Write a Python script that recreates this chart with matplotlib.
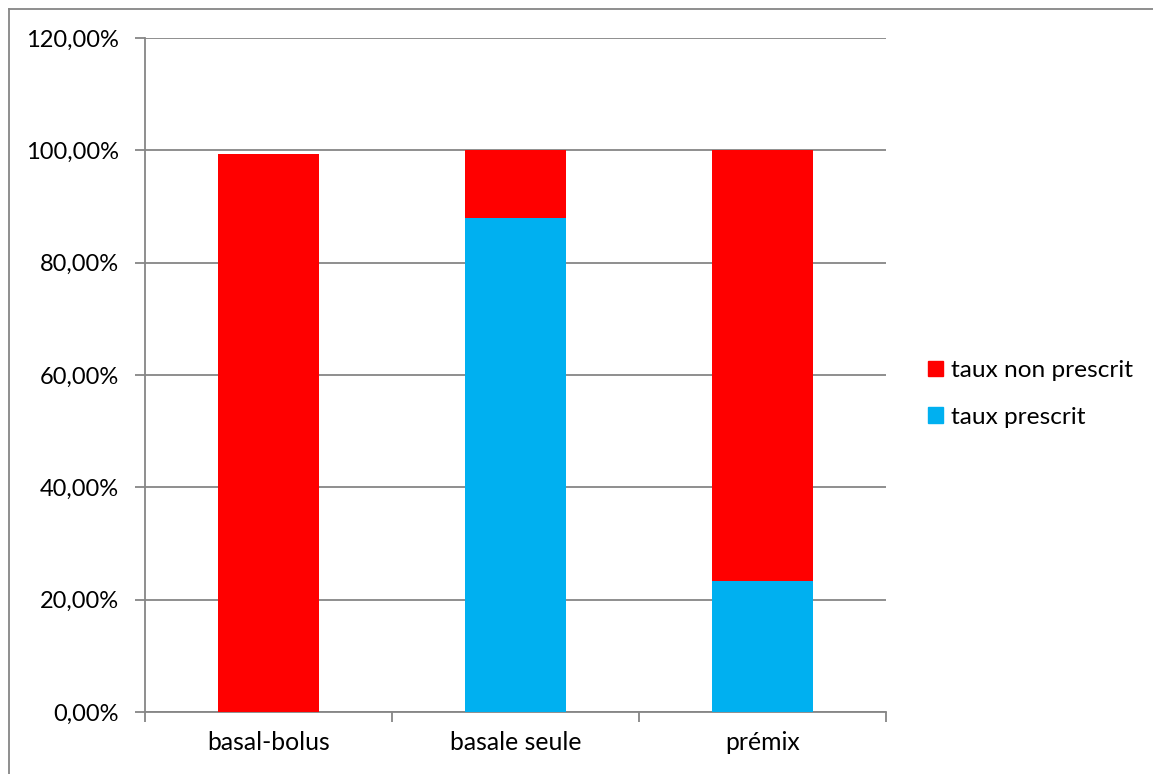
import matplotlib.pyplot as plt
from matplotlib.lines import Line2D
from matplotlib.patches import Patch
from matplotlib.ticker import FuncFormatter, FixedLocator

plt.rcParams['font.family'] = ['Lato', 'DejaVu Sans']

categories = ['basal-bolus', 'basale seule', 'prémix']
taux_prescrit = [0.0, 0.879, 0.233]
taux_non_prescrit = [0.994, 0.121, 0.767]

red = '#ff0000'
blue = '#00b0f0'
grey = '#868686'

fig = plt.figure(figsize=(11.53, 7.74), dpi=100)
ax = fig.add_axes([145 / 1153, 1 - 712 / 774, 741 / 1153, 674 / 774])

x = list(range(len(categories)))
ax.bar(x, taux_prescrit, width=0.405, color=blue, zorder=3)
ax.bar(x, taux_non_prescrit, width=0.405, bottom=taux_prescrit, color=red, zorder=3)

ax.set_xlim(-0.5, 2.5)
ax.set_ylim(0, 1.2)
ax.set_yticks([i * 0.2 for i in range(7)])
ax.yaxis.set_major_formatter(FuncFormatter(lambda v, p: f'{v * 100:.2f}%'.replace('.', ',')))
ax.yaxis.grid(True, color=grey, linewidth=1.3, zorder=0)

ax.set_xticks(x)
ax.set_xticklabels(categories)
ax.xaxis.set_minor_locator(FixedLocator([-0.5, 0.5, 1.5, 2.5]))
ax.tick_params(axis='x', which='major', length=0, pad=14, labelsize=17.8)
ax.tick_params(axis='x', which='minor', length=7, width=1.3, color=grey)
ax.tick_params(axis='y', length=7, width=1.3, color=grey, labelsize=17, pad=12)

for s in ['top', 'right']:
    ax.spines[s].set_visible(False)
for s in ['left', 'bottom']:
    ax.spines[s].set_color(grey)
    ax.spines[s].set_linewidth(1.3)

handles = [Patch(color=red, label='taux non prescrit'),
           Patch(color=blue, label='taux prescrit')]
fig.legend(handles=handles, loc='center left', bbox_to_anchor=(928 / 1153, 1 - 394 / 774),
           frameon=False, fontsize=17.6, handlelength=0.6, handleheight=0.6,
           handletextpad=0.35, labelspacing=1.05, borderpad=0, borderaxespad=0)

# frame of the chart area
fig.add_artist(Line2D([9 / 1153, 9 / 1153], [0, 1 - 9 / 774], color=grey, linewidth=1.3))
fig.add_artist(Line2D([9 / 1153, 1], [1 - 9 / 774, 1 - 9 / 774], color=grey, linewidth=1.3))

fig.savefig('out.png', dpi=100)
